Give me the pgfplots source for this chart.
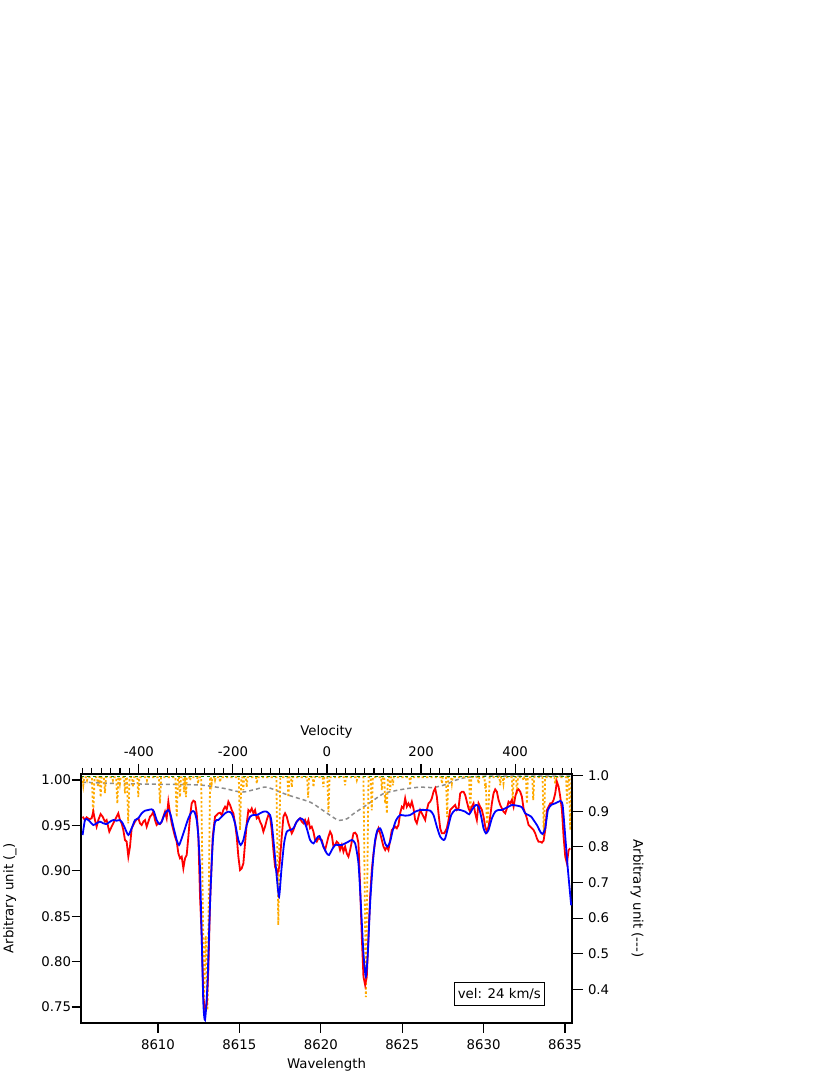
\documentclass[border=0pt]{standalone}
\usepackage{pgfplots}
\pgfplotsset{compat=1.18}
\usepackage{fontspec}
\setmainfont{DejaVu Sans}

\definecolor{obsred}{RGB}{255,0,0}
\definecolor{modblue}{RGB}{0,0,255}
\definecolor{tellorange}{RGB}{255,170,0}
\definecolor{profgray}{RGB}{140,140,140}
\definecolor{contgreen}{RGB}{20,130,20}

\pgfplotsset{
  base/.style={
    scale only axis, width=491pt, height=249pt,
    at={(0,0)}, anchor=south west,
    tick align=outside,
    axis line style={line width=1.1pt},
    every tick/.style={black, line width=1.1pt},
  },
}

\begin{document}
\begin{tikzpicture}[font=\fontsize{13.3}{16}\selectfont]
\useasboundingbox (-81pt,-52pt) rectangle (749pt,1023pt);

% right axis: telluric lines, line profile, continuum
\begin{axis}[base,
  axis y line*=right, axis x line=none,
  xmin=8605.27, xmax=8635.43, ymin=0.305, ymax=1.005,
  ytick={0.4,0.5,0.6,0.7,0.8,0.9,1.0},
  yticklabels={0.4,0.5,0.6,0.7,0.8,0.9,1.0},
  major tick length=11pt,
  yticklabel style={xshift=1.5pt},
  ylabel={Arbitrary unit (-{}-{}-)},
  ylabel style={at={(axis description cs:1.1324,0.5)}, anchor=center, rotate=180},
]
\addplot [profgray, line width=1.5pt, dash pattern=on 4pt off 3pt, smooth, tension=0.4] table {
8605.33 0.982
8607.66 0.978
8610.12 0.976
8612.58 0.974
8614.00 0.965
8615.14 0.954
8616.00 0.962
8616.68 0.968
8617.91 0.947
8619.34 0.926
8619.96 0.908
8620.57 0.889
8621.08 0.875
8621.60 0.879
8622.00 0.893
8622.62 0.912
8623.23 0.931
8623.85 0.950
8624.46 0.957
8625.29 0.964
8626.10 0.968
8626.92 0.967
8627.64 0.975
8628.25 0.987
8628.87 0.995
8629.67 0.998
8630.71 0.999
8635.38 0.999
};
\addplot [tellorange, line width=1.8pt, dash pattern=on 2.2pt off 2.2pt] table {
8605.30 0.996
8605.35 0.996
8605.41 0.973
8605.47 0.996
8605.59 0.996
8605.64 0.987
8605.69 0.996
8605.94 0.996
8606.02 0.884
8606.10 0.996
8606.26 0.996
8606.31 0.968
8606.36 0.996
8606.42 0.996
8606.48 0.940
8606.54 0.996
8606.68 0.996
8606.74 0.951
8606.80 0.996
8607.18 0.996
8607.23 0.987
8607.28 0.996
8607.43 0.996
8607.50 0.922
8607.57 0.996
8607.61 0.996
8607.66 0.978
8607.71 0.996
8607.91 0.996
8607.97 0.951
8608.03 0.996
8608.09 0.996
8608.17 0.866
8608.25 0.996
8608.41 0.996
8608.46 0.968
8608.51 0.996
8608.73 0.996
8608.79 0.940
8608.85 0.996
8609.27 0.996
8609.32 0.987
8609.37 0.996
8610.05 0.996
8610.12 0.922
8610.19 0.996
8611.07 0.996
8611.15 0.884
8611.23 0.996
8611.29 0.996
8611.35 0.940
8611.41 0.996
8611.55 0.996
8611.60 0.954
8611.65 0.996
8611.67 0.996
8611.72 0.940
8611.77 0.996
8611.92 0.996
8611.97 0.987
8612.02 0.996
8612.41 0.996
8612.46 0.978
8612.51 0.996
8612.65 0.996
8612.83 0.369
8612.93 0.550
8613.04 0.341
8613.20 0.996
8613.25 0.996
8613.30 0.978
8613.35 0.996
8613.45 0.996
8613.50 0.987
8613.55 0.996
8613.76 0.996
8613.81 0.982
8613.86 0.996
8614.96 0.996
8615.04 0.847
8615.12 0.996
8615.19 0.996
8615.24 0.959
8615.29 0.996
8615.40 0.996
8615.45 0.968
8615.50 0.996
8616.02 0.996
8616.07 0.978
8616.12 0.996
8617.27 0.996
8617.39 0.580
8617.51 0.996
8617.95 0.996
8618.01 0.940
8618.07 0.996
8618.17 0.996
8618.22 0.968
8618.27 0.996
8619.16 0.996
8619.22 0.939
8619.28 0.996
8619.50 0.996
8619.55 0.968
8619.60 0.996
8620.11 0.996
8620.16 0.968
8620.21 0.996
8620.40 0.996
8620.47 0.898
8620.54 0.996
8621.44 0.996
8621.49 0.973
8621.54 0.996
8622.16 0.996
8622.21 0.987
8622.26 0.996
8622.62 0.996
8622.77 0.378
8622.93 0.996
8623.06 0.996
8623.13 0.903
8623.20 0.996
8623.70 0.996
8623.75 0.959
8623.80 0.996
8623.90 0.996
8623.95 0.922
8624.00 0.950
8624.06 0.894
8624.12 0.996
8624.21 0.996
8624.26 0.959
8624.31 0.996
8624.38 0.996
8624.43 0.973
8624.48 0.996
8625.44 0.996
8625.49 0.973
8625.54 0.996
8627.39 0.996
8627.44 0.978
8627.49 0.996
8627.69 0.996
8627.76 0.884
8627.83 0.996
8628.00 0.996
8628.05 0.978
8628.10 0.996
8629.11 0.996
8629.18 0.894
8629.25 0.996
8629.64 0.996
8629.69 0.978
8629.74 0.996
8630.05 0.996
8630.10 0.964
8630.14 0.980
8630.20 0.865
8630.30 0.903
8630.37 0.996
8630.97 0.996
8631.02 0.973
8631.07 0.996
8631.17 0.996
8631.22 0.978
8631.27 0.996
8631.73 0.996
8631.79 0.931
8631.85 0.996
8631.99 0.996
8632.05 0.950
8632.11 0.996
8632.40 0.996
8632.45 0.987
8632.50 0.996
8632.60 0.996
8632.66 0.922
8632.72 0.996
8632.99 0.996
8633.05 0.931
8633.11 0.996
8633.62 0.996
8633.70 0.830
8633.78 0.996
8634.35 0.996
8634.40 0.978
8634.45 0.996
8635.07 0.996
8635.12 0.922
8635.17 0.996
8635.25 0.996
8635.32 0.847
8635.40 0.996
};
\addplot [contgreen, line width=1.5pt, dash pattern=on 3pt off 3pt] table {
8605.27 0.998
8635.43 0.998
};
\end{axis}

% main axis: observed and model spectra
\begin{axis}[base,
  xmin=8605.27, xmax=8635.43, ymin=0.7324, ymax=1.0066,
  xtick={8610,8615,8620,8625,8630,8635},
  xticklabels={8610,8615,8620,8625,8630,8635},
  ytick={0.75,0.80,0.85,0.90,0.95,1.00},
  yticklabels={0.75,0.80,0.85,0.90,0.95,1.00},
  xtick pos=bottom, ytick pos=left,
  major tick length=9.5pt,
  xticklabel style={yshift=-4pt},
  yticklabel style={xshift=3pt},
  xlabel={Wavelength}, ylabel={Arbitrary unit (\textunderscore)},
  xlabel style={at={(axis description cs:0.5,-0.169)}, anchor=center},
  ylabel style={at={(axis description cs:-0.1446,0.5)}, anchor=center},
]
\addplot [obsred, line width=1.8pt] table {
8605.370 0.9596
8605.513 0.9559
8605.616 0.9589
8605.780 0.9567
8605.923 0.9578
8606.026 0.9651
8606.128 0.9559
8606.230 0.9486
8606.333 0.9559
8606.476 0.9625
8606.599 0.9596
8606.743 0.9541
8606.845 0.9559
8607.009 0.9431
8607.152 0.9486
8607.255 0.9523
8607.460 0.9596
8607.562 0.9633
8607.665 0.9559
8607.767 0.9523
8607.869 0.9449
8607.972 0.9339
8608.074 0.9321
8608.177 0.9156
8608.279 0.9266
8608.382 0.9468
8608.484 0.9504
8608.587 0.9541
8608.689 0.9567
8608.791 0.9578
8608.894 0.9523
8608.996 0.9504
8609.099 0.9541
8609.201 0.9559
8609.304 0.9486
8609.406 0.9541
8609.508 0.9596
8609.611 0.9614
8609.713 0.9651
8609.816 0.9559
8609.918 0.9504
8610.021 0.9523
8610.123 0.9515
8610.226 0.9541
8610.328 0.9596
8610.430 0.9651
8610.533 0.9578
8610.635 0.9761
8610.738 0.9633
8610.840 0.9523
8610.943 0.9449
8611.045 0.9376
8611.148 0.9321
8611.250 0.9192
8611.352 0.9137
8611.455 0.9156
8611.557 0.9027
8611.660 0.9137
8611.762 0.9174
8611.865 0.9376
8611.967 0.9596
8612.070 0.9743
8612.172 0.9772
8612.274 0.9761
8612.377 0.9633
8612.479 0.9376
8612.582 0.8715
8612.684 0.8275
8612.786 0.7600
8612.888 0.7480
8612.991 0.7520
8613.093 0.7907
8613.196 0.8642
8613.360 0.9376
8613.503 0.9596
8613.605 0.9614
8613.708 0.9633
8613.810 0.9640
8613.913 0.9614
8614.015 0.9670
8614.118 0.9706
8614.220 0.9677
8614.322 0.9761
8614.425 0.9725
8614.527 0.9670
8614.630 0.9633
8614.732 0.9523
8614.835 0.9376
8614.937 0.9156
8615.040 0.9009
8615.142 0.9027
8615.245 0.9082
8615.347 0.9302
8615.449 0.9523
8615.552 0.9670
8615.654 0.9651
8615.757 0.9688
8615.859 0.9633
8615.962 0.9670
8616.064 0.9578
8616.166 0.9596
8616.269 0.9541
8616.371 0.9504
8616.474 0.9431
8616.576 0.9486
8616.679 0.9559
8616.781 0.9614
8616.883 0.9596
8616.986 0.9449
8617.088 0.9229
8617.191 0.9045
8617.334 0.8972
8617.457 0.9045
8617.601 0.9376
8617.703 0.9596
8617.805 0.9633
8617.908 0.9596
8618.010 0.9523
8618.113 0.9468
8618.215 0.9413
8618.318 0.9449
8618.420 0.9504
8618.523 0.9541
8618.625 0.9559
8618.727 0.9578
8618.830 0.9541
8618.932 0.9523
8619.035 0.9559
8619.137 0.9504
8619.240 0.9559
8619.342 0.9468
8619.444 0.9486
8619.547 0.9431
8619.649 0.9339
8619.752 0.9321
8619.854 0.9357
8619.957 0.9350
8620.059 0.9339
8620.162 0.9266
8620.264 0.9229
8620.367 0.9302
8620.469 0.9376
8620.572 0.9431
8620.674 0.9394
8620.777 0.9266
8620.879 0.9284
8620.981 0.9321
8621.084 0.9302
8621.186 0.9229
8621.289 0.9284
8621.391 0.9211
8621.494 0.9266
8621.596 0.9192
8621.698 0.9156
8621.801 0.9229
8621.903 0.9321
8622.006 0.9413
8622.108 0.9420
8622.211 0.9394
8622.313 0.9302
8622.416 0.8825
8622.518 0.8275
8622.620 0.7834
8622.723 0.7742
8622.825 0.7834
8622.928 0.8275
8623.030 0.8715
8623.133 0.9009
8623.235 0.9192
8623.338 0.9321
8623.440 0.9413
8623.542 0.9468
8623.645 0.9413
8623.747 0.9339
8623.850 0.9266
8623.952 0.9229
8624.055 0.9266
8624.157 0.9229
8624.259 0.9339
8624.362 0.9449
8624.464 0.9468
8624.567 0.9486
8624.669 0.9468
8624.772 0.9504
8624.874 0.9633
8624.977 0.9706
8625.079 0.9688
8625.181 0.9798
8625.284 0.9706
8625.386 0.9743
8625.489 0.9706
8625.591 0.9761
8625.694 0.9688
8625.796 0.9559
8625.898 0.9523
8626.001 0.9596
8626.103 0.9670
8626.206 0.9633
8626.308 0.9596
8626.411 0.9559
8626.513 0.9670
8626.615 0.9743
8626.718 0.9761
8626.820 0.9798
8626.923 0.9871
8627.025 0.9908
8627.128 0.9816
8627.230 0.9633
8627.333 0.9468
8627.435 0.9413
8627.579 0.9413
8627.742 0.9468
8627.845 0.9559
8627.947 0.9670
8628.050 0.9688
8628.152 0.9706
8628.255 0.9725
8628.357 0.9670
8628.460 0.9688
8628.562 0.9853
8628.664 0.9871
8628.767 0.9871
8628.869 0.9835
8628.972 0.9761
8629.074 0.9688
8629.177 0.9651
8629.279 0.9706
8629.381 0.9743
8629.484 0.9633
8629.586 0.9559
8629.689 0.9743
8629.791 0.9706
8629.894 0.9670
8629.996 0.9596
8630.098 0.9486
8630.201 0.9431
8630.303 0.9486
8630.406 0.9596
8630.508 0.9743
8630.611 0.9853
8630.713 0.9897
8630.815 0.9871
8630.918 0.9780
8631.020 0.9725
8631.123 0.9688
8631.225 0.9651
8631.328 0.9633
8631.430 0.9688
8631.532 0.9761
8631.635 0.9743
8631.737 0.9780
8631.840 0.9706
8631.942 0.9816
8632.045 0.9882
8632.147 0.9897
8632.249 0.9871
8632.352 0.9816
8632.454 0.9688
8632.557 0.9633
8632.659 0.9578
8632.762 0.9504
8632.864 0.9486
8632.966 0.9468
8633.069 0.9449
8633.171 0.9413
8633.274 0.9357
8633.376 0.9321
8633.479 0.9321
8633.581 0.9310
8633.684 0.9332
8633.786 0.9449
8633.889 0.9670
8633.991 0.9706
8634.093 0.9743
8634.196 0.9743
8634.298 0.9780
8634.401 0.9853
8634.503 0.9982
8634.606 0.9926
8634.708 0.9816
8634.811 0.9670
8634.913 0.9376
8635.016 0.9156
8635.118 0.9082
8635.221 0.9229
8635.323 0.9247
};
\addplot [modblue, line width=1.8pt, smooth, tension=0.4] table {
8605.370 0.9394
8605.513 0.9559
8605.657 0.9567
8605.821 0.9541
8606.026 0.9504
8606.230 0.9523
8606.435 0.9541
8606.640 0.9523
8606.845 0.9515
8607.050 0.9541
8607.255 0.9559
8607.460 0.9552
8607.665 0.9559
8607.829 0.9523
8607.972 0.9468
8608.177 0.9394
8608.382 0.9468
8608.587 0.9559
8608.791 0.9578
8608.996 0.9633
8609.201 0.9662
8609.406 0.9670
8609.611 0.9677
8609.754 0.9651
8609.918 0.9559
8610.082 0.9515
8610.226 0.9541
8610.430 0.9633
8610.635 0.9670
8610.779 0.9614
8610.943 0.9486
8611.148 0.9339
8611.291 0.9284
8611.455 0.9357
8611.660 0.9468
8611.865 0.9578
8612.070 0.9651
8612.233 0.9651
8612.377 0.9559
8612.479 0.9376
8612.582 0.9009
8612.684 0.8275
8612.786 0.7540
8612.888 0.7357
8613.032 0.7724
8613.196 0.8642
8613.360 0.9302
8613.503 0.9541
8613.708 0.9559
8613.913 0.9596
8614.118 0.9633
8614.322 0.9651
8614.527 0.9633
8614.732 0.9523
8614.937 0.9339
8615.081 0.9284
8615.245 0.9339
8615.449 0.9504
8615.654 0.9596
8615.859 0.9614
8616.064 0.9614
8616.269 0.9633
8616.474 0.9651
8616.679 0.9651
8616.883 0.9614
8616.986 0.9523
8617.129 0.9266
8617.293 0.8935
8617.437 0.8715
8617.580 0.9009
8617.744 0.9302
8617.908 0.9431
8618.113 0.9449
8618.318 0.9468
8618.523 0.9541
8618.727 0.9578
8618.932 0.9559
8619.137 0.9468
8619.342 0.9339
8619.547 0.9302
8619.752 0.9357
8619.916 0.9383
8620.162 0.9266
8620.367 0.9192
8620.510 0.9174
8620.674 0.9229
8620.879 0.9284
8621.084 0.9284
8621.289 0.9284
8621.494 0.9302
8621.698 0.9321
8621.903 0.9339
8622.108 0.9302
8622.313 0.9082
8622.457 0.8642
8622.620 0.8091
8622.764 0.7834
8622.887 0.8091
8623.030 0.8642
8623.194 0.9082
8623.338 0.9339
8623.481 0.9449
8623.645 0.9468
8623.809 0.9394
8623.952 0.9302
8624.096 0.9266
8624.259 0.9321
8624.423 0.9449
8624.628 0.9559
8624.874 0.9614
8625.181 0.9607
8625.489 0.9614
8625.796 0.9651
8626.103 0.9670
8626.411 0.9670
8626.718 0.9662
8626.923 0.9614
8627.128 0.9486
8627.333 0.9376
8627.538 0.9339
8627.640 0.9357
8627.804 0.9468
8628.009 0.9614
8628.255 0.9670
8628.562 0.9670
8628.869 0.9651
8629.115 0.9622
8629.279 0.9670
8629.525 0.9725
8629.689 0.9706
8629.853 0.9596
8629.996 0.9468
8630.139 0.9413
8630.303 0.9449
8630.508 0.9578
8630.713 0.9651
8630.918 0.9670
8631.123 0.9670
8631.328 0.9688
8631.532 0.9706
8631.737 0.9725
8631.942 0.9721
8632.147 0.9714
8632.352 0.9699
8632.557 0.9633
8632.762 0.9614
8632.926 0.9596
8633.069 0.9559
8633.274 0.9504
8633.479 0.9431
8633.622 0.9405
8633.786 0.9468
8633.950 0.9670
8634.155 0.9725
8634.401 0.9743
8634.606 0.9761
8634.708 0.9769
8634.852 0.9725
8635.016 0.9376
8635.180 0.9009
8635.380 0.8620
};
\node [draw, line width=0.8pt, fill=white, inner xsep=3.5pt, inner ysep=6pt]
  at (rel axis cs:0.852,0.1165) {vel: 24 km/s};
\end{axis}

% top axis: velocity scale
\begin{axis}[base,
  axis x line*=top, axis y line=none,
  xmin=-523, xmax=521, ymin=0, ymax=1,
  xtick={-400,-200,0,200,400},
  xticklabels={-400,-200,0,200,400},
  minor xtick={-520,-500,...,520},
  major tick length=10pt, minor tick length=6pt,
  xticklabel style={yshift=4pt},
  xlabel={Velocity},
  xlabel style={at={(axis description cs:0.5,1.169)}, anchor=center},
]
\end{axis}
\end{tikzpicture}
\end{document}
